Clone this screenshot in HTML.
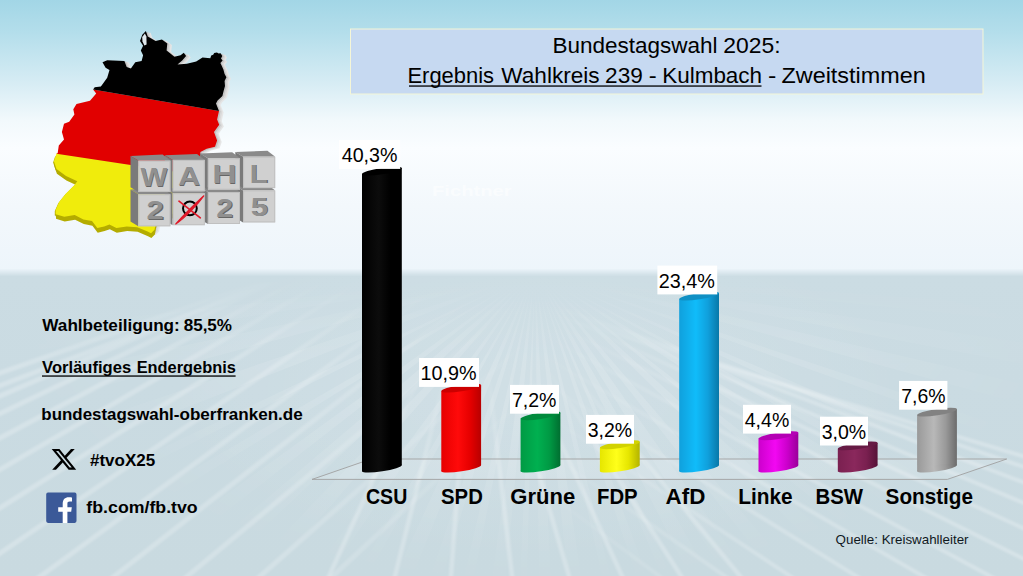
<!DOCTYPE html>
<html lang="de"><head><meta charset="utf-8"><title>Bundestagswahl 2025 - Wahlkreis 239 Kulmbach</title>
<style>html,body{margin:0;padding:0;background:#d0dde2;overflow:hidden}svg{display:block}</style></head>
<body>
<svg width="1023" height="576" viewBox="0 0 1023 576">
<defs>
<linearGradient id="sky" x1="0" y1="0" x2="0" y2="1">
<stop offset="0" stop-color="#a2d6e6"/>
<stop offset="0.12" stop-color="#b4deeb"/>
<stop offset="0.30" stop-color="#d6ecf4"/>
<stop offset="0.44" stop-color="#f2f9fc"/>
<stop offset="0.54" stop-color="#fafdff"/>
<stop offset="0.75" stop-color="#f3f8fc"/>
<stop offset="1" stop-color="#edf5fb"/>
</linearGradient>
<linearGradient id="floor" x1="0" y1="0" x2="0" y2="1">
<stop offset="0" stop-color="#cbdce3"/>
<stop offset="0.35" stop-color="#cadbe2"/>
<stop offset="1" stop-color="#c9dae0"/>
</linearGradient>
<linearGradient id="hz" x1="0" y1="0" x2="0" y2="1">
<stop offset="0" stop-color="#edf5fb"/>
<stop offset="1" stop-color="#cbdce3"/>
</linearGradient>
<linearGradient id="g0" x1="0" y1="0" x2="1" y2="0"><stop offset="0" stop-color="#000000"/><stop offset="0.42" stop-color="#0c0c0c"/><stop offset="0.72" stop-color="#000000"/><stop offset="1" stop-color="#000000"/></linearGradient>
<linearGradient id="g1" x1="0" y1="0" x2="1" y2="0"><stop offset="0" stop-color="#e60000"/><stop offset="0.42" stop-color="#ff0a0a"/><stop offset="0.72" stop-color="#e60000"/><stop offset="1" stop-color="#b80000"/></linearGradient>
<linearGradient id="g2" x1="0" y1="0" x2="1" y2="0"><stop offset="0" stop-color="#009a44"/><stop offset="0.42" stop-color="#00b050"/><stop offset="0.72" stop-color="#009a44"/><stop offset="1" stop-color="#006e30"/></linearGradient>
<linearGradient id="g3" x1="0" y1="0" x2="1" y2="0"><stop offset="0" stop-color="#e6e600"/><stop offset="0.42" stop-color="#ffff1a"/><stop offset="0.72" stop-color="#e6e600"/><stop offset="1" stop-color="#b4b400"/></linearGradient>
<linearGradient id="g4" x1="0" y1="0" x2="1" y2="0"><stop offset="0" stop-color="#10a0dc"/><stop offset="0.42" stop-color="#10bcfa"/><stop offset="0.72" stop-color="#10a0dc"/><stop offset="1" stop-color="#0878a8"/></linearGradient>
<linearGradient id="g5" x1="0" y1="0" x2="1" y2="0"><stop offset="0" stop-color="#cc00cc"/><stop offset="0.42" stop-color="#f208f2"/><stop offset="0.72" stop-color="#cc00cc"/><stop offset="1" stop-color="#9a009a"/></linearGradient>
<linearGradient id="g6" x1="0" y1="0" x2="1" y2="0"><stop offset="0" stop-color="#7a2050"/><stop offset="0.42" stop-color="#8a285c"/><stop offset="0.72" stop-color="#7a2050"/><stop offset="1" stop-color="#561238"/></linearGradient>
<linearGradient id="g7" x1="0" y1="0" x2="1" y2="0"><stop offset="0" stop-color="#999999"/><stop offset="0.42" stop-color="#b8b8b8"/><stop offset="0.72" stop-color="#999999"/><stop offset="1" stop-color="#6c6c6c"/></linearGradient>
<clipPath id="floorclip"><rect x="0" y="275" width="1023" height="301"/></clipPath>
<radialGradient id="glow" cx="535" cy="390" r="1" gradientUnits="userSpaceOnUse" gradientTransform="translate(535 390) scale(380 170) translate(-535 -390)"><stop offset="0" stop-color="#fff" stop-opacity="0.13"/><stop offset="0.5" stop-color="#fff" stop-opacity="0.07"/><stop offset="1" stop-color="#fff" stop-opacity="0"/></radialGradient>
<radialGradient id="sbm" cx="535" cy="271" r="330" gradientUnits="userSpaceOnUse" gradientTransform="translate(535 271) scale(1.7 1) translate(-535 -271)"><stop offset="0" stop-color="#fff"/><stop offset="0.5" stop-color="#bbb"/><stop offset="1" stop-color="#000"/></radialGradient>
<mask id="sbmask" maskUnits="userSpaceOnUse" x="0" y="275" width="1023" height="301"><rect x="0" y="275" width="1023" height="301" fill="url(#sbm)"/></mask>
<linearGradient id="mg" x1="0" y1="276" x2="0" y2="576" gradientUnits="userSpaceOnUse"><stop offset="0" stop-color="#000"/><stop offset="0.04" stop-color="#222"/><stop offset="0.3" stop-color="#fff"/><stop offset="1" stop-color="#fff"/></linearGradient>
<mask id="fm" maskUnits="userSpaceOnUse" x="0" y="276" width="1023" height="300"><rect x="0" y="276" width="1023" height="300" fill="url(#mg)"/></mask>
<filter id="bl" x="-5%" y="-5%" width="110%" height="110%"><feGaussianBlur stdDeviation="1.3"/></filter>
<linearGradient id="lg1" x1="0" y1="0" x2="560" y2="0" gradientUnits="userSpaceOnUse"><stop offset="0" stop-color="#fff"/><stop offset="0.5" stop-color="#ddd"/><stop offset="1" stop-color="#000"/></linearGradient>
<mask id="lm" maskUnits="userSpaceOnUse" x="0" y="282" width="1023" height="294"><rect x="0" y="282" width="560" height="294" fill="url(#lg1)"/></mask>
<linearGradient id="lg2" x1="520" y1="0" x2="1023" y2="0" gradientUnits="userSpaceOnUse"><stop offset="0" stop-color="#000"/><stop offset="0.5" stop-color="#ddd"/><stop offset="1" stop-color="#fff"/></linearGradient>
<mask id="rm" maskUnits="userSpaceOnUse" x="0" y="282" width="1023" height="294"><rect x="520" y="282" width="503" height="294" fill="url(#lg2)"/></mask>
<linearGradient id="cg" x1="0" y1="360" x2="0" y2="576" gradientUnits="userSpaceOnUse"><stop offset="0" stop-color="#000"/><stop offset="0.55" stop-color="#fff"/><stop offset="1" stop-color="#fff"/></linearGradient>
<mask id="cm" maskUnits="userSpaceOnUse" x="280" y="360" width="520" height="216"><rect x="280" y="360" width="520" height="216" fill="url(#cg)"/></mask>
<clipPath id="lowclip"><polygon points="40,154 260,187 260,300 40,300"/></clipPath>
</defs>
<rect x="0" y="0" width="1023" height="274" fill="url(#sky)"/>
<rect x="0" y="276" width="1023" height="300" fill="url(#floor)"/>
<rect x="0" y="268.5" width="1023" height="8" fill="url(#hz)"/>
<rect x="0" y="275" width="1023" height="301" fill="url(#glow)"/>
<g mask="url(#fm)"><g fill="#ffffff" fill-opacity="0.17" mask="url(#sbmask)"><polygon points="535,271 1732.1,354.7 1728.8,393.3"/><polygon points="535,271 1722.4,444.2 1713.7,495.9"/><polygon points="535,271 1704.2,541.3 1692.5,587.5"/><polygon points="535,271 1673.7,649.5 1664.7,675.6"/><polygon points="535,271 1637.7,744.2 1626.9,768.7"/><polygon points="535,271 1596.5,830.7 1583.1,855.4"/><polygon points="535,271 1559.1,896.5 1536.1,932.7"/><polygon points="535,271 1481.3,1008.9 1462.4,1032.5"/><polygon points="535,271 1425.9,1074.9 1390.7,1112.3"/><polygon points="535,271 1316.6,1181.6 1278.5,1212.9"/><polygon points="535,271 1224.9,1252.8 1169.9,1289.3"/><polygon points="535,271 1131.4,1312.3 1077.7,1341.3"/><polygon points="535,271 1023.4,1367.1 994.8,1379.4"/><polygon points="535,271 948.9,1397.4 913.0,1409.9"/><polygon points="535,271 823.5,1435.8 791.7,1443.2"/><polygon points="535,271 714.5,1457.5 663.1,1464.1"/><polygon points="535,271 598.0,1469.3 550.0,1470.9"/><polygon points="535,271 504.1,1470.6 476.5,1469.6"/><polygon points="535,271 421.8,1465.7 368.6,1459.4"/><polygon points="535,271 300.8,1447.9 263.4,1439.9"/><polygon points="535,271 187.4,1419.5 145.4,1406.0"/><polygon points="535,271 88.5,1384.8 34.8,1361.8"/><polygon points="535,271 -41.8,1323.3 -72.6,1305.8"/><polygon points="535,271 -138.5,1264.2 -177.0,1237.0"/><polygon points="535,271 -252.6,1176.4 -293.7,1138.9"/><polygon points="535,271 -336.0,1096.4 -380.2,1047.1"/><polygon points="535,271 -411.3,1008.9 -436.9,974.8"/><polygon points="535,271 -486.7,900.4 -502.8,873.4"/><polygon points="535,271 -537.4,809.5 -549.1,785.5"/><polygon points="535,271 -582.4,708.5 -602.0,654.8"/><polygon points="535,271 -624.5,580.3 -638.8,520.2"/><polygon points="535,271 -650.1,459.6 -657.4,405.8"/></g></g>
<g mask="url(#fm)"><g mask="url(#lm)"><g stroke="#ffffff" stroke-opacity="0.24" stroke-width="5" filter="url(#bl)"><line x1="-648.7" y1="600" x2="351.3" y2="250"/><line x1="-564.1" y1="600" x2="357.0" y2="250"/><line x1="-474.2" y1="600" x2="339.8" y2="250"/><line x1="-388.4" y1="600" x2="340.8" y2="250"/><line x1="-305.6" y1="600" x2="354.7" y2="250"/><line x1="-225.1" y1="600" x2="378.4" y2="250"/><line x1="-146.2" y1="600" x2="409.4" y2="250"/><line x1="-68.6" y1="600" x2="446.1" y2="250"/><line x1="8.0" y1="600" x2="487.4" y2="250"/><line x1="83.7" y1="600" x2="532.4" y2="250"/><line x1="158.7" y1="600" x2="580.4" y2="250"/><line x1="233.1" y1="600" x2="630.9" y2="250"/><line x1="307.1" y1="600" x2="683.5" y2="250"/></g></g></g>
<g mask="url(#fm)"><g mask="url(#rm)"><g stroke="#ffffff" stroke-opacity="0.26" stroke-width="4" filter="url(#bl)"><line x1="691.8" y1="600" x2="218.9" y2="250"/><line x1="758.9" y1="600" x2="258.9" y2="250"/><line x1="826.5" y1="600" x2="296.2" y2="250"/><line x1="894.8" y1="600" x2="330.3" y2="250"/><line x1="964.1" y1="600" x2="360.6" y2="250"/><line x1="1034.4" y1="600" x2="386.2" y2="250"/><line x1="1106.0" y1="600" x2="406.0" y2="250"/><line x1="1179.3" y1="600" x2="418.4" y2="250"/><line x1="1254.8" y1="600" x2="421.4" y2="250"/><line x1="1333.1" y1="600" x2="412.0" y2="250"/><line x1="1415.2" y1="600" x2="385.8" y2="250"/><line x1="1502.7" y1="600" x2="336.0" y2="250"/></g></g></g>
<g mask="url(#cm)"><g stroke="#ffffff" stroke-opacity="0.24" stroke-width="4.5" filter="url(#bl)"><line x1="318.1" y1="600" x2="436.7" y2="340"/><line x1="389.0" y1="600" x2="454.0" y2="340"/><line x1="449.2" y1="600" x2="468.7" y2="340"/><line x1="514.8" y1="600" x2="484.7" y2="340"/><line x1="576.0" y1="600" x2="499.7" y2="340"/><line x1="633.0" y1="600" x2="513.6" y2="340"/><line x1="696.5" y1="600" x2="529.1" y2="340"/><line x1="759.9" y1="600" x2="544.6" y2="340"/></g></g>
<rect x="350.5" y="29" width="632.5" height="65" fill="#c6d9f1" stroke="#f4f6d8" stroke-width="1"/>
<text x="552.42" y="53.0" font-family="Liberation Sans, sans-serif" font-size="21.3" textLength="165.13" lengthAdjust="spacingAndGlyphs" fill="#000" >Bundestagswahl</text>
<text x="723.33" y="53.0" font-family="Liberation Sans, sans-serif" font-size="21.3" textLength="57.23" lengthAdjust="spacingAndGlyphs" fill="#000" >2025:</text>
<text x="407.47" y="82.8" font-family="Liberation Sans, sans-serif" font-size="21.3" textLength="86.61" lengthAdjust="spacingAndGlyphs" fill="#000" >Ergebnis</text>
<text x="501.30" y="82.8" font-family="Liberation Sans, sans-serif" font-size="21.3" textLength="98.35" lengthAdjust="spacingAndGlyphs" fill="#000" >Wahlkreis</text>
<text x="605.09" y="82.8" font-family="Liberation Sans, sans-serif" font-size="21.3" textLength="37.74" lengthAdjust="spacingAndGlyphs" fill="#000" >239</text>
<text x="648.87" y="82.8" font-family="Liberation Sans, sans-serif" font-size="21.3" textLength="7.94" lengthAdjust="spacingAndGlyphs" fill="#000" >-</text>
<text x="662.19" y="82.8" font-family="Liberation Sans, sans-serif" font-size="21.3" textLength="99.91" lengthAdjust="spacingAndGlyphs" fill="#000" >Kulmbach</text>
<text x="767.96" y="82.8" font-family="Liberation Sans, sans-serif" font-size="21.3" textLength="8.35" lengthAdjust="spacingAndGlyphs" fill="#000" >-</text>
<text x="781.53" y="82.8" font-family="Liberation Sans, sans-serif" font-size="21.3" textLength="144.16" lengthAdjust="spacingAndGlyphs" fill="#000" >Zweitstimmen</text>
<rect x="409" y="85.4" width="352.5" height="1.3" fill="#000"/>
<text x="432.05" y="195.5" font-family="Liberation Sans, sans-serif" font-size="14.5" font-weight="bold" textLength="79.60" lengthAdjust="spacingAndGlyphs" fill="#ffffff" fill-opacity="0.55">Fichtner</text>
<polygon points="312,479.4 371,459 1006.7,459 947.3,479.4" fill="#ffffff" fill-opacity="0.12" stroke="#a0a0a0" stroke-width="0.9"/>
<g>
<path d="M362.00,174.10 L401.80,168.00 L401.80,465.10 L362.00,471.20 Z" fill="url(#g0)"/>
<ellipse cx="381.90" cy="468.15" rx="20.15" ry="3.2" transform="rotate(-8.7 381.90 468.15)" fill="url(#g0)" />
<ellipse cx="381.90" cy="171.05" rx="20.15" ry="3.2" transform="rotate(-8.7 381.90 171.05)" fill="#000000" />
</g>
<g>
<path d="M441.30,391.20 L481.10,385.10 L481.10,465.10 L441.30,471.20 Z" fill="url(#g1)"/>
<ellipse cx="461.20" cy="468.15" rx="20.15" ry="3.2" transform="rotate(-8.7 461.20 468.15)" fill="url(#g1)" />
<ellipse cx="461.20" cy="388.15" rx="20.15" ry="3.2" transform="rotate(-8.7 461.20 388.15)" fill="#cc0000" />
</g>
<g>
<path d="M520.60,418.80 L560.40,412.70 L560.40,465.10 L520.60,471.20 Z" fill="url(#g2)"/>
<ellipse cx="540.50" cy="468.15" rx="20.15" ry="3.2" transform="rotate(-8.7 540.50 468.15)" fill="url(#g2)" />
<ellipse cx="540.50" cy="415.75" rx="20.15" ry="3.2" transform="rotate(-8.7 540.50 415.75)" fill="#008a3c" />
</g>
<g>
<path d="M599.90,447.80 L639.70,441.70 L639.70,465.10 L599.90,471.20 Z" fill="url(#g3)"/>
<ellipse cx="619.80" cy="468.15" rx="20.15" ry="3.2" transform="rotate(-8.7 619.80 468.15)" fill="url(#g3)" />
<ellipse cx="619.80" cy="444.75" rx="20.15" ry="3.2" transform="rotate(-8.7 619.80 444.75)" fill="#d2d200" />
</g>
<g>
<path d="M679.20,299.20 L719.00,293.10 L719.00,465.10 L679.20,471.20 Z" fill="url(#g4)"/>
<ellipse cx="699.10" cy="468.15" rx="20.15" ry="3.2" transform="rotate(-8.7 699.10 468.15)" fill="url(#g4)" />
<ellipse cx="699.10" cy="296.15" rx="20.15" ry="3.2" transform="rotate(-8.7 699.10 296.15)" fill="#1090c4" />
</g>
<g>
<path d="M758.50,438.80 L798.30,432.70 L798.30,465.10 L758.50,471.20 Z" fill="url(#g5)"/>
<ellipse cx="778.40" cy="468.15" rx="20.15" ry="3.2" transform="rotate(-8.7 778.40 468.15)" fill="url(#g5)" />
<ellipse cx="778.40" cy="435.75" rx="20.15" ry="3.2" transform="rotate(-8.7 778.40 435.75)" fill="#b400b4" />
</g>
<g>
<path d="M837.80,449.00 L877.60,442.90 L877.60,465.10 L837.80,471.20 Z" fill="url(#g6)"/>
<ellipse cx="857.70" cy="468.15" rx="20.15" ry="3.2" transform="rotate(-8.7 857.70 468.15)" fill="url(#g6)" />
<ellipse cx="857.70" cy="445.95" rx="20.15" ry="3.2" transform="rotate(-8.7 857.70 445.95)" fill="#661a44" />
</g>
<g>
<path d="M917.10,415.20 L956.90,409.10 L956.90,465.10 L917.10,471.20 Z" fill="url(#g7)"/>
<ellipse cx="937.00" cy="468.15" rx="20.15" ry="3.2" transform="rotate(-8.7 937.00 468.15)" fill="url(#g7)" />
<ellipse cx="937.00" cy="412.15" rx="20.15" ry="3.2" transform="rotate(-8.7 937.00 412.15)" fill="#828282" />
</g>
<rect x="339.0" y="140.0" width="61.2" height="28.9" fill="#ffffff"/>
<text x="341.73" y="162.0" font-family="Liberation Sans, sans-serif" font-size="20.4" textLength="55.75" lengthAdjust="spacingAndGlyphs" fill="#000" >40,3%</text>
<rect x="419.1" y="358.0" width="59.9" height="28.9" fill="#ffffff"/>
<text x="420.57" y="379.9" font-family="Liberation Sans, sans-serif" font-size="20.4" textLength="56.02" lengthAdjust="spacingAndGlyphs" fill="#000" >10,9%</text>
<rect x="510.0" y="384.9" width="49.0" height="28.8" fill="#ffffff"/>
<text x="511.88" y="407.1" font-family="Liberation Sans, sans-serif" font-size="20.4" textLength="44.52" lengthAdjust="spacingAndGlyphs" fill="#000" >7,2%</text>
<rect x="586.0" y="414.9" width="48.0" height="28.8" fill="#ffffff"/>
<text x="587.66" y="437.1" font-family="Liberation Sans, sans-serif" font-size="20.4" textLength="44.47" lengthAdjust="spacingAndGlyphs" fill="#000" >3,2%</text>
<rect x="657.4" y="265.6" width="59.8" height="28.8" fill="#ffffff"/>
<text x="658.74" y="287.9" font-family="Liberation Sans, sans-serif" font-size="20.4" textLength="56.21" lengthAdjust="spacingAndGlyphs" fill="#000" >23,4%</text>
<rect x="743.0" y="404.8" width="48.0" height="28.8" fill="#ffffff"/>
<text x="744.75" y="427.1" font-family="Liberation Sans, sans-serif" font-size="20.4" textLength="44.49" lengthAdjust="spacingAndGlyphs" fill="#000" >4,4%</text>
<rect x="820.0" y="416.7" width="48.0" height="28.8" fill="#ffffff"/>
<text x="821.66" y="438.8" font-family="Liberation Sans, sans-serif" font-size="20.4" textLength="44.47" lengthAdjust="spacingAndGlyphs" fill="#000" >3,0%</text>
<rect x="899.1" y="380.9" width="48.3" height="28.8" fill="#ffffff"/>
<text x="901.28" y="403.3" font-family="Liberation Sans, sans-serif" font-size="20.4" textLength="44.30" lengthAdjust="spacingAndGlyphs" fill="#000" >7,6%</text>
<text x="366.03" y="503.9" font-family="Liberation Sans, sans-serif" font-size="22.3" font-weight="bold" textLength="41.23" lengthAdjust="spacingAndGlyphs" fill="#000" >CSU</text>
<text x="441.07" y="503.9" font-family="Liberation Sans, sans-serif" font-size="22.3" font-weight="bold" textLength="41.73" lengthAdjust="spacingAndGlyphs" fill="#000" >SPD</text>
<text x="510.26" y="503.9" font-family="Liberation Sans, sans-serif" font-size="22.3" font-weight="bold" textLength="64.92" lengthAdjust="spacingAndGlyphs" fill="#000" >Grüne</text>
<text x="597.01" y="503.9" font-family="Liberation Sans, sans-serif" font-size="22.3" font-weight="bold" textLength="40.63" lengthAdjust="spacingAndGlyphs" fill="#000" >FDP</text>
<text x="665.60" y="503.9" font-family="Liberation Sans, sans-serif" font-size="22.3" font-weight="bold" textLength="39.77" lengthAdjust="spacingAndGlyphs" fill="#000" >AfD</text>
<text x="738.27" y="503.9" font-family="Liberation Sans, sans-serif" font-size="22.3" font-weight="bold" textLength="54.37" lengthAdjust="spacingAndGlyphs" fill="#000" >Linke</text>
<text x="815.49" y="503.9" font-family="Liberation Sans, sans-serif" font-size="22.3" font-weight="bold" textLength="47.51" lengthAdjust="spacingAndGlyphs" fill="#000" >BSW</text>
<text x="885.60" y="503.9" font-family="Liberation Sans, sans-serif" font-size="22.3" font-weight="bold" textLength="87.44" lengthAdjust="spacingAndGlyphs" fill="#000" >Sonstige</text>
<text x="835.62" y="543.8" font-family="Liberation Sans, sans-serif" font-size="13.2" textLength="132.92" lengthAdjust="spacingAndGlyphs" fill="#10181e" >Quelle: Kreiswahlleiter</text>
<text x="42.30" y="330.8" font-family="Liberation Sans, sans-serif" font-size="16.2" font-weight="bold" textLength="137.51" lengthAdjust="spacingAndGlyphs" fill="#000" >Wahlbeteiligung:</text>
<text x="183.68" y="330.8" font-family="Liberation Sans, sans-serif" font-size="16.2" font-weight="bold" textLength="48.35" lengthAdjust="spacingAndGlyphs" fill="#000" >85,5%</text>
<text x="42.13" y="373.1" font-family="Liberation Sans, sans-serif" font-size="16.2" font-weight="bold" textLength="89.07" lengthAdjust="spacingAndGlyphs" fill="#000" >Vorläufiges</text>
<text x="136.65" y="373.1" font-family="Liberation Sans, sans-serif" font-size="16.2" font-weight="bold" textLength="99.24" lengthAdjust="spacingAndGlyphs" fill="#000" >Endergebnis</text>
<rect x="42" y="375.4" width="193.6" height="1.3" fill="#000"/>
<text x="41.33" y="419.9" font-family="Liberation Sans, sans-serif" font-size="16.2" font-weight="bold" textLength="132.47" lengthAdjust="spacingAndGlyphs" fill="#000" >bundestagswahl</text>
<text x="173.83" y="419.9" font-family="Liberation Sans, sans-serif" font-size="16.2" font-weight="bold" textLength="128.96" lengthAdjust="spacingAndGlyphs" fill="#000" >-oberfranken.de</text>
<text x="89.97" y="466.1" font-family="Liberation Sans, sans-serif" font-size="16.2" font-weight="bold" textLength="65.22" lengthAdjust="spacingAndGlyphs" fill="#000" >#tvoX25</text>
<text x="86.37" y="513.1" font-family="Liberation Sans, sans-serif" font-size="16.2" font-weight="bold" textLength="111.35" lengthAdjust="spacingAndGlyphs" fill="#000" >fb.com/fb.tvo</text>
<g transform="translate(50.28,446.72) scale(1.1357,1.0564)"><path fill="#000" d="M18.244 2.25h3.308l-7.227 8.26 8.502 11.24H16.17l-5.214-6.817L4.99 21.75H1.68l7.73-8.835L1.254 2.25H8.08l4.713 6.231zm-1.161 17.52h1.833L7.084 4.126H5.117z"/></g>
<rect x="46.2" y="492.6" width="30.3" height="30.3" rx="1.8" fill="#3b5998"/>
<path fill="#fff" d="M62.7,522.9 V511.8 H58.2 V507.3 H62.7 V503.6 C62.7,499.4 65.1,497.2 68.6,497.2 C70.2,497.2 71.4,497.3 72,497.4 V501.6 H69.7 C67.9,501.6 67.4,502.5 67.4,503.8 V507.3 H71.8 L71.2,511.8 H67.4 V522.9 Z"/>
<polygon points="93.1,89.5 94.7,87.2 100.9,86.4 107.2,77.8 109.5,70.0 105.6,67.7 102.5,62.2 107.2,60.3 124.4,60.9 126.7,66.9 130.9,68.4 135.3,62.2 141.6,60.9 143.1,55.2 140.8,50.5 143.1,45.8 140.0,41.1 142.3,34.8 145.9,30.9 147.8,36.4 155.6,41.1 161.9,39.5 167.3,43.4 166.6,50.5 174.4,56.7 180.6,55.2 183.8,52.8 186.1,55.9 182.2,60.6 177.5,64.5 186.9,63.8 196.2,61.4 202.5,57.5 210.3,58.3 211.2,55.6 213.2,54.8 214.2,53.0 217.0,52.4 218.4,53.6 220.6,53.2 222.3,56.0 221.0,58.6 222.6,60.4 220.4,63.0 221.6,65.6 223.4,69.6 224.6,74.0 226.4,77.2 224.6,81.0 225.0,86.0 223.6,91.0 222.4,96.0 217.6,100.6 216.0,103.4 219.0,110.9 217.1,119.6 219.2,124.8 214.0,132.1 217.1,140.4 215.0,146.7 206.7,148.8 200.4,151.9 200.0,165.0 156.0,222.0 154.5,229.8 151.0,233.3 147.6,231.6 137.2,227.2 126.8,226.4 116.4,228.1 109.4,224.6 104.2,226.4 97.3,228.1 92.0,221.1 83.4,219.4 74.7,215.1 64.3,216.8 55.6,214.2 55.6,209.9 59.1,202.1 66.0,193.4 74.7,184.7 77.3,181.2 66.0,176.0 56.5,169.1 53.9,161.3 56.5,153.5 57.7,152.9 58.8,145.6 64.0,139.4 61.9,132.1 64.0,123.8 69.2,121.7 74.4,114.4 73.3,109.2 76.5,104.0 90.0,100.8 96.2,93.5" transform="translate(4.6,1.6)" fill="#e6e6e6"/>
<polygon points="93.1,89.5 94.7,87.2 100.9,86.4 107.2,77.8 109.5,70.0 105.6,67.7 102.5,62.2 107.2,60.3 124.4,60.9 126.7,66.9 130.9,68.4 135.3,62.2 141.6,60.9 143.1,55.2 140.8,50.5 143.1,45.8 140.0,41.1 142.3,34.8 145.9,30.9 147.8,36.4 155.6,41.1 161.9,39.5 167.3,43.4 166.6,50.5 174.4,56.7 180.6,55.2 183.8,52.8 186.1,55.9 182.2,60.6 177.5,64.5 186.9,63.8 196.2,61.4 202.5,57.5 210.3,58.3 211.2,55.6 213.2,54.8 214.2,53.0 217.0,52.4 218.4,53.6 220.6,53.2 222.3,56.0 221.0,58.6 222.6,60.4 220.4,63.0 221.6,65.6 223.4,69.6 224.6,74.0 226.4,77.2 224.6,81.0 225.0,86.0 223.6,91.0 222.4,96.0 217.6,100.6 216.0,103.4 219.0,110.9 217.1,119.6 219.2,124.8 214.0,132.1 217.1,140.4 215.0,146.7 206.7,148.8 200.4,151.9 200.0,165.0 156.0,222.0 154.5,229.8 151.0,233.3 147.6,231.6 137.2,227.2 126.8,226.4 116.4,228.1 109.4,224.6 104.2,226.4 97.3,228.1 92.0,221.1 83.4,219.4 74.7,215.1 64.3,216.8 55.6,214.2 55.6,209.9 59.1,202.1 66.0,193.4 74.7,184.7 77.3,181.2 66.0,176.0 56.5,169.1 53.9,161.3 56.5,153.5 57.7,152.9 58.8,145.6 64.0,139.4 61.9,132.1 64.0,123.8 69.2,121.7 74.4,114.4 73.3,109.2 76.5,104.0 90.0,100.8 96.2,93.5" transform="translate(3.2,1.1)" fill="#dadada"/>
<polygon points="93.1,89.5 94.7,87.2 100.9,86.4 107.2,77.8 109.5,70.0 105.6,67.7 102.5,62.2 107.2,60.3 124.4,60.9 126.7,66.9 130.9,68.4 135.3,62.2 141.6,60.9 143.1,55.2 140.8,50.5 143.1,45.8 140.0,41.1 142.3,34.8 145.9,30.9 147.8,36.4 155.6,41.1 161.9,39.5 167.3,43.4 166.6,50.5 174.4,56.7 180.6,55.2 183.8,52.8 186.1,55.9 182.2,60.6 177.5,64.5 186.9,63.8 196.2,61.4 202.5,57.5 210.3,58.3 211.2,55.6 213.2,54.8 214.2,53.0 217.0,52.4 218.4,53.6 220.6,53.2 222.3,56.0 221.0,58.6 222.6,60.4 220.4,63.0 221.6,65.6 223.4,69.6 224.6,74.0 226.4,77.2 224.6,81.0 225.0,86.0 223.6,91.0 222.4,96.0 217.6,100.6 216.0,103.4 219.0,110.9 217.1,119.6 219.2,124.8 214.0,132.1 217.1,140.4 215.0,146.7 206.7,148.8 200.4,151.9 200.0,165.0 156.0,222.0 154.5,229.8 151.0,233.3 147.6,231.6 137.2,227.2 126.8,226.4 116.4,228.1 109.4,224.6 104.2,226.4 97.3,228.1 92.0,221.1 83.4,219.4 74.7,215.1 64.3,216.8 55.6,214.2 55.6,209.9 59.1,202.1 66.0,193.4 74.7,184.7 77.3,181.2 66.0,176.0 56.5,169.1 53.9,161.3 56.5,153.5 57.7,152.9 58.8,145.6 64.0,139.4 61.9,132.1 64.0,123.8 69.2,121.7 74.4,114.4 73.3,109.2 76.5,104.0 90.0,100.8 96.2,93.5" transform="translate(1.6,0.6)" fill="#c4c4c4"/>
<g clip-path="url(#lowclip)"><polygon points="56.5,153.3 200.0,175.2 200.0,200.0 156.0,222.0 154.5,229.8 151.0,233.3 147.6,231.6 137.2,227.2 126.8,226.4 116.4,228.1 109.4,224.6 104.2,226.4 97.3,228.1 92.0,221.1 83.4,219.4 74.7,215.1 64.3,216.8 55.6,214.2 55.6,209.9 59.1,202.1 66.0,193.4 74.7,184.7 77.3,181.2 66.0,176.0 56.5,169.1 53.9,161.3 56.5,153.5" transform="translate(0.4,4.6)" fill="#b4ac00"/><polygon points="56.5,153.3 200.0,175.2 200.0,200.0 156.0,222.0 154.5,229.8 151.0,233.3 147.6,231.6 137.2,227.2 126.8,226.4 116.4,228.1 109.4,224.6 104.2,226.4 97.3,228.1 92.0,221.1 83.4,219.4 74.7,215.1 64.3,216.8 55.6,214.2 55.6,209.9 59.1,202.1 66.0,193.4 74.7,184.7 77.3,181.2 66.0,176.0 56.5,169.1 53.9,161.3 56.5,153.5" transform="translate(0.2,2.4)" fill="#b4ac00"/><polygon points="56.5,153.3 200.0,175.2 200.0,200.0 156.0,222.0 154.5,229.8 151.0,233.3 147.6,231.6 137.2,227.2 126.8,226.4 116.4,228.1 109.4,224.6 104.2,226.4 97.3,228.1 92.0,221.1 83.4,219.4 74.7,215.1 64.3,216.8 55.6,214.2 55.6,209.9 59.1,202.1 66.0,193.4 74.7,184.7 77.3,181.2 66.0,176.0 56.5,169.1 53.9,161.3 56.5,153.5" transform="translate(-0.8,1.2)" fill="#b4ac00"/></g>
<polygon points="56.5,153.3 200.0,175.2 200.0,200.0 156.0,222.0 154.5,229.8 151.0,233.3 147.6,231.6 137.2,227.2 126.8,226.4 116.4,228.1 109.4,224.6 104.2,226.4 97.3,228.1 92.0,221.1 83.4,219.4 74.7,215.1 64.3,216.8 55.6,214.2 55.6,209.9 59.1,202.1 66.0,193.4 74.7,184.7 77.3,181.2 66.0,176.0 56.5,169.1 53.9,161.3 56.5,153.5" fill="#f0ec0c"/>
<polygon points="57.7,152.9 58.8,145.6 64.0,139.4 61.9,132.1 64.0,123.8 69.2,121.7 74.4,114.4 73.3,109.2 76.5,104.0 90.0,100.8 96.2,93.5 93.1,89.5 219.0,110.9 217.1,119.6 219.2,124.8 214.0,132.1 217.1,140.4 215.0,146.7 206.7,148.8 200.4,151.9 200.0,175.6 56.5,153.8" fill="#e10000"/>
<polygon points="93.1,89.5 94.7,87.2 100.9,86.4 107.2,77.8 109.5,70.0 105.6,67.7 102.5,62.2 107.2,60.3 124.4,60.9 126.7,66.9 130.9,68.4 135.3,62.2 141.6,60.9 143.1,55.2 140.8,50.5 143.1,45.8 140.0,41.1 142.3,34.8 145.9,30.9 147.8,36.4 155.6,41.1 161.9,39.5 167.3,43.4 166.6,50.5 174.4,56.7 180.6,55.2 183.8,52.8 186.1,55.9 182.2,60.6 177.5,64.5 186.9,63.8 196.2,61.4 202.5,57.5 210.3,58.3 211.2,55.6 213.2,54.8 214.2,53.0 217.0,52.4 218.4,53.6 220.6,53.2 222.3,56.0 221.0,58.6 222.6,60.4 220.4,63.0 221.6,65.6 223.4,69.6 224.6,74.0 226.4,77.2 224.6,81.0 225.0,86.0 223.6,91.0 222.4,96.0 217.6,100.6 216.0,103.4 219.0,110.9" fill="#000"/>
<polygon points="144.9,33.6 142.2,37.1 142.5,41.5 144.4,45.4 146.6,44.6 146.4,36.6" fill="#dfe8ec"/>
<polygon points="243.1,190.4 235.29999999999998,185.70000000000002 267.4,184.4 275.2,190.4" fill="#8a8a8a"/><polygon points="243.1,190.4 235.29999999999998,185.70000000000002 235.29999999999998,217.70000000000002 243.1,222.4" fill="#7a7a7a"/><rect x="243.1" y="190.4" width="32.1" height="32.0" fill="#d0d0d0"/><rect x="243.6" y="190.9" width="31.1" height="31.0" fill="none" stroke="#c0c0c0" stroke-width="1"/>
<polygon points="207.9,192.0 200.1,187.3 232.2,186.0 240.0,192.0" fill="#8a8a8a"/><polygon points="207.9,192.0 200.1,187.3 200.1,219.3 207.9,224.0" fill="#7a7a7a"/><rect x="207.9" y="192.0" width="32.1" height="32.0" fill="#d0d0d0"/><rect x="208.4" y="192.5" width="31.1" height="31.0" fill="none" stroke="#c0c0c0" stroke-width="1"/>
<polygon points="172.7,193.2 164.89999999999998,188.5 196.99999999999997,187.2 204.79999999999998,193.2" fill="#8a8a8a"/><polygon points="172.7,193.2 164.89999999999998,188.5 164.89999999999998,220.5 172.7,225.2" fill="#7a7a7a"/><rect x="172.7" y="193.2" width="32.1" height="32.0" fill="#d0d0d0"/><rect x="173.2" y="193.7" width="31.1" height="31.0" fill="none" stroke="#c0c0c0" stroke-width="1"/>
<polygon points="138.3,194.3 130.5,189.60000000000002 162.6,188.3 170.4,194.3" fill="#8a8a8a"/><polygon points="138.3,194.3 130.5,189.60000000000002 130.5,221.60000000000002 138.3,226.3" fill="#7a7a7a"/><rect x="138.3" y="194.3" width="32.1" height="32.0" fill="#d0d0d0"/><rect x="138.8" y="194.8" width="31.1" height="31.0" fill="none" stroke="#c0c0c0" stroke-width="1"/>
<polygon points="243.1,156.7 235.29999999999998,152.0 267.4,150.7 275.2,156.7" fill="#8a8a8a"/><polygon points="243.1,156.7 235.29999999999998,152.0 235.29999999999998,183.4 243.1,188.1" fill="#7a7a7a"/><rect x="243.1" y="156.7" width="32.1" height="31.4" fill="#d0d0d0"/><rect x="243.6" y="157.2" width="31.1" height="30.4" fill="none" stroke="#c0c0c0" stroke-width="1"/>
<polygon points="207.9,158.3 200.1,153.60000000000002 232.2,152.3 240.0,158.3" fill="#8a8a8a"/><polygon points="207.9,158.3 200.1,153.60000000000002 200.1,185.00000000000003 207.9,189.70000000000002" fill="#7a7a7a"/><rect x="207.9" y="158.3" width="32.1" height="31.4" fill="#d0d0d0"/><rect x="208.4" y="158.8" width="31.1" height="30.4" fill="none" stroke="#c0c0c0" stroke-width="1"/>
<polygon points="172.7,159.9 164.89999999999998,155.20000000000002 196.99999999999997,153.9 204.79999999999998,159.9" fill="#8a8a8a"/><polygon points="172.7,159.9 164.89999999999998,155.20000000000002 164.89999999999998,186.60000000000002 172.7,191.3" fill="#7a7a7a"/><rect x="172.7" y="159.9" width="32.1" height="31.4" fill="#d0d0d0"/><rect x="173.2" y="160.4" width="31.1" height="30.4" fill="none" stroke="#c0c0c0" stroke-width="1"/>
<polygon points="138.3,160.6 130.5,155.9 162.6,154.6 170.4,160.6" fill="#8a8a8a"/><polygon points="138.3,160.6 130.5,155.9 130.5,187.3 138.3,192.0" fill="#7a7a7a"/><rect x="138.3" y="160.6" width="32.1" height="31.4" fill="#d0d0d0"/><rect x="138.8" y="161.1" width="31.1" height="30.4" fill="none" stroke="#c0c0c0" stroke-width="1"/>
<text x="141.22" y="186.9" font-family="Liberation Sans, sans-serif" font-size="25.2" font-weight="bold" textLength="26.74" lengthAdjust="spacingAndGlyphs" fill="#666666" >W</text>
<text x="140.47" y="186.0" font-family="Liberation Sans, sans-serif" font-size="25.2" font-weight="bold" textLength="26.78" lengthAdjust="spacingAndGlyphs" fill="#909090" >W</text>
<text x="178.89" y="185.8" font-family="Liberation Sans, sans-serif" font-size="25.2" font-weight="bold" textLength="21.99" lengthAdjust="spacingAndGlyphs" fill="#666666" >A</text>
<text x="178.29" y="184.9" font-family="Liberation Sans, sans-serif" font-size="25.2" font-weight="bold" textLength="21.89" lengthAdjust="spacingAndGlyphs" fill="#909090" >A</text>
<text x="213.00" y="184.3" font-family="Liberation Sans, sans-serif" font-size="25.2" font-weight="bold" textLength="24.40" lengthAdjust="spacingAndGlyphs" fill="#666666" >H</text>
<text x="212.25" y="183.4" font-family="Liberation Sans, sans-serif" font-size="25.2" font-weight="bold" textLength="24.55" lengthAdjust="spacingAndGlyphs" fill="#909090" >H</text>
<text x="250.15" y="183.4" font-family="Liberation Sans, sans-serif" font-size="25.2" font-weight="bold" textLength="18.50" lengthAdjust="spacingAndGlyphs" fill="#666666" >L</text>
<text x="249.81" y="182.5" font-family="Liberation Sans, sans-serif" font-size="25.2" font-weight="bold" textLength="17.81" lengthAdjust="spacingAndGlyphs" fill="#909090" >L</text>
<text x="147.43" y="220.2" font-family="Liberation Sans, sans-serif" font-size="25.2" font-weight="bold" textLength="17.41" lengthAdjust="spacingAndGlyphs" fill="#666666" >2</text>
<text x="146.63" y="219.3" font-family="Liberation Sans, sans-serif" font-size="25.2" font-weight="bold" textLength="17.09" lengthAdjust="spacingAndGlyphs" fill="#909090" >2</text>
<text x="217.23" y="217.6" font-family="Liberation Sans, sans-serif" font-size="25.2" font-weight="bold" textLength="16.88" lengthAdjust="spacingAndGlyphs" fill="#666666" >2</text>
<text x="216.25" y="216.7" font-family="Liberation Sans, sans-serif" font-size="25.2" font-weight="bold" textLength="16.85" lengthAdjust="spacingAndGlyphs" fill="#909090" >2</text>
<text x="251.70" y="216.4" font-family="Liberation Sans, sans-serif" font-size="25.2" font-weight="bold" textLength="17.09" lengthAdjust="spacingAndGlyphs" fill="#666666" >5</text>
<text x="250.80" y="215.5" font-family="Liberation Sans, sans-serif" font-size="25.2" font-weight="bold" textLength="17.20" lengthAdjust="spacingAndGlyphs" fill="#909090" >5</text>
<circle cx="189.9" cy="208.3" r="6.9" fill="none" stroke="#000" stroke-width="2"/>
<path d="M175.8,224 C182,217 196,203 203.8,195.8 C198,204 186,217 175.8,224 Z" fill="#e01828" stroke="#e01828" stroke-width="1.2" stroke-linejoin="round"/>
<path d="M179,201.2 L200.3,217.8" stroke="#e01828" stroke-width="1.7" fill="none" stroke-linecap="round"/>
</svg>
</body></html>
